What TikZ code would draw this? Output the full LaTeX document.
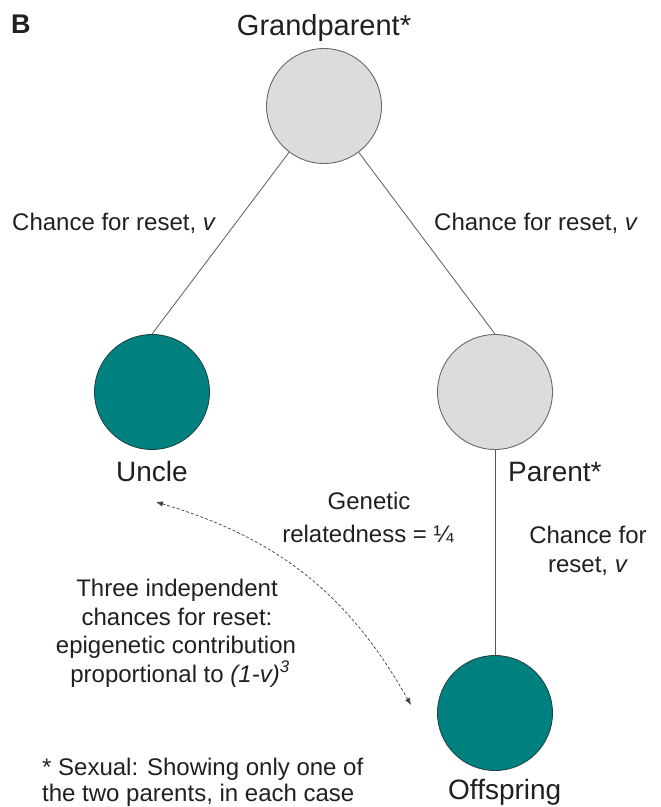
\documentclass[tikz,border=0pt]{standalone}
\usepackage{fontspec}
\setmainfont{Liberation Sans}
\usetikzlibrary{arrows.meta}
\definecolor{tealfill}{RGB}{0,128,126}
\definecolor{tealedge}{RGB}{30,70,70}
\definecolor{grayfill}{RGB}{220,220,220}
\definecolor{grayedge}{RGB}{105,105,105}
\definecolor{linec}{RGB}{90,90,90}
\definecolor{txt}{RGB}{35,31,32}
\begin{document}
\begin{tikzpicture}[x=1pt,y=-1pt,
 person/.style={circle, minimum size=115pt, inner sep=0pt, line width=0.9pt},
 graynode/.style={person, fill=grayfill, draw=grayedge},
 tealnode/.style={person, fill=tealfill, draw=tealedge},
 lbl/.style={font=\fontsize{28}{32}\selectfont, text=txt, inner sep=0pt},
 note/.style={font=\fontsize{24}{29}\selectfont, text=txt, inner sep=0pt},
 link/.style={draw=linec, line width=0.8pt},
 rel/.style={draw=txt!85, dash pattern=on 3pt off 2pt, line width=0.7pt,
   {Latex[length=7pt,width=5.5pt]}-{Latex[length=7pt,width=5.5pt]}}]
\useasboundingbox (0,0) rectangle (661,807);
\fill[white] (0,0) rectangle (661,807);

% people
\node[graynode] (gp) at (324,106) {};
\node[tealnode] (uncle) at (152,392) {};
\node[graynode] (parent) at (495,392) {};
\node[tealnode] (off) at (495,713) {};

% lineage
\draw[link] (gp) -- (uncle.north);
\draw[link] (gp) -- (parent.north);
\draw[link] (parent.south) -- (off.north);

% relatedness arrow
\coordinate (ua) at (156,502);
\coordinate (oa) at (411,705);
\draw[rel] (ua) to[bend left=22] (oa);

% labels
\node[font=\fontsize{27}{30}\selectfont\bfseries, text=txt, inner sep=0pt, anchor=base west] (panel) at (11,33) {B};
\node[lbl, font=\fontsize{29}{33}\selectfont, anchor=base] (gpl) at (324,35) {Grandparent*};
\node[note, anchor=base west] (cl) at (12,230) {Chance for reset, \textit{v}};
\node[note, anchor=base west] (cr) at (434,230) {Chance for reset, \textit{v}};
\node[lbl, anchor=base] (ul) at (152,481) {Uncle};
\node[lbl, anchor=base west] (pl) at (508,481) {Parent*};
\node[note, anchor=base] (g1) at (369,509) {Genetic};
\node[note, anchor=base] (g2) at (368,542) {relatedness = ¼};
\node[note, anchor=base] (c1) at (588,543) {Chance for};
\node[note, anchor=base] (c2) at (588,572) {reset, \textit{v}};
\node[note, anchor=base] (t1) at (177,596) {Three independent};
\node[note, anchor=base] (t2) at (177,625) {chances for reset:};
\node[note, anchor=base] (t3) at (176,653) {epigenetic contribution};
\node[note, anchor=base] (t4) at (180,682) {proportional to \textit{(1-v)}\textsuperscript{\textit{3}}};
\node[note, anchor=base west] (s1) at (42,775) {* Sexual: Showing only one of};
\node[note, anchor=base west] (s2) at (42,801) {the two parents, in each case};
\node[lbl, anchor=base west] (ol) at (448,799) {Offspring};
\end{tikzpicture}
\end{document}
